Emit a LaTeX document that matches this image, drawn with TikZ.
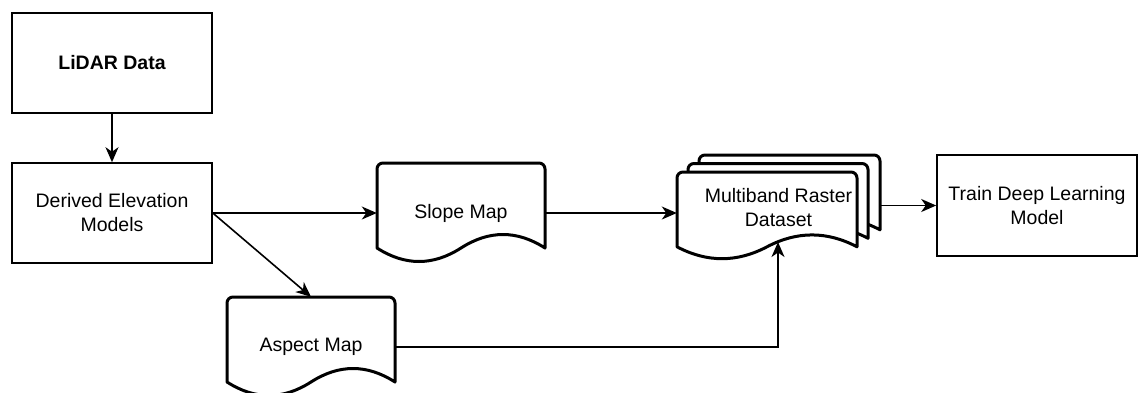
\documentclass[tikz,border=0pt]{standalone}
\usepackage{fontspec}
\setmainfont{Liberation Sans}
\usetikzlibrary{arrows.meta,calc}

\newcommand{\lbl}{\fontsize{19.5}{24}\selectfont}

\tikzset{
  box/.style={draw, line width=1.6pt, fill=white, minimum width=200pt,
    minimum height=100pt, inner sep=0pt, align=center, font=\lbl},
  doclabel/.style={inner sep=0pt, align=center, font=\lbl},
  docline/.style={line width=3pt, fill=white, line join=round},
  link/.style={line width=1.6pt, -{Stealth[length=15pt,width=13pt,inset=4.5pt]}},
}

% document outline with a wavy bottom: left, top, width, height
\newcommand{\docshape}[4]{%
  \draw[docline, rounded corners=6pt]
    (#1,{#2+0.85*#4}) -- (#1,#2) -- ({#1+#3},#2) [sharp corners]
    -- ({#1+#3},{#2+0.85*#4})
    .. controls ({#1+0.8333*#3},{#2+0.67*#4}) and ({#1+0.6667*#3},{#2+0.67*#4})
    .. ({#1+0.5*#3},{#2+0.85*#4})
    .. controls ({#1+0.3333*#3},{#2+1.03*#4}) and ({#1+0.1667*#3},{#2+1.03*#4})
    .. (#1,{#2+0.85*#4}) -- cycle;}

\begin{document}
\begin{tikzpicture}[x=1pt,y=-1pt]
  \useasboundingbox (0,0) rectangle (1143,392);

  % plain process boxes
  \node[box, font=\lbl\bfseries] (lidar) at (112,63) {LiDAR Data};
  \node[box] (derived) at (112,213) {Derived Elevation\\Models};
  \node[box, minimum height=101pt] (train) at (1037,205.5) {Train Deep Learning\\Model};

  % single documents
  \docshape{377}{163}{168}{100}
  \node[doclabel, minimum width=168pt, minimum height=100pt] (slope) at (461,213) {Slope Map};
  \docshape{227}{297}{168}{100}
  \node[doclabel, minimum width=168pt, minimum height=100pt] (aspect) at (311,347) {Aspect Map};

  % stacked documents, back to front
  \docshape{699}{155}{181}{88}
  \docshape{688}{163.5}{180}{88}
  \docshape{677}{172}{180}{88}
  \node[doclabel, minimum width=203pt, minimum height=105pt] (multi) at (778.5,207.5)
    {Multiband Raster\\Dataset};
  \coordinate (mb) at (778,242);

  % connectors
  \draw[link] (lidar) -- (derived);
  \draw[link] (derived.east) -- (slope.west);
  \draw[link] (derived.east) -- (aspect.north);
  \draw[link] (slope.east) -- (slope.east -| multi.west);
  \draw[link] (multi.east |- train.west) -- (train.west);
  \draw[link] (aspect.east) -| (mb);
\end{tikzpicture}
\end{document}
